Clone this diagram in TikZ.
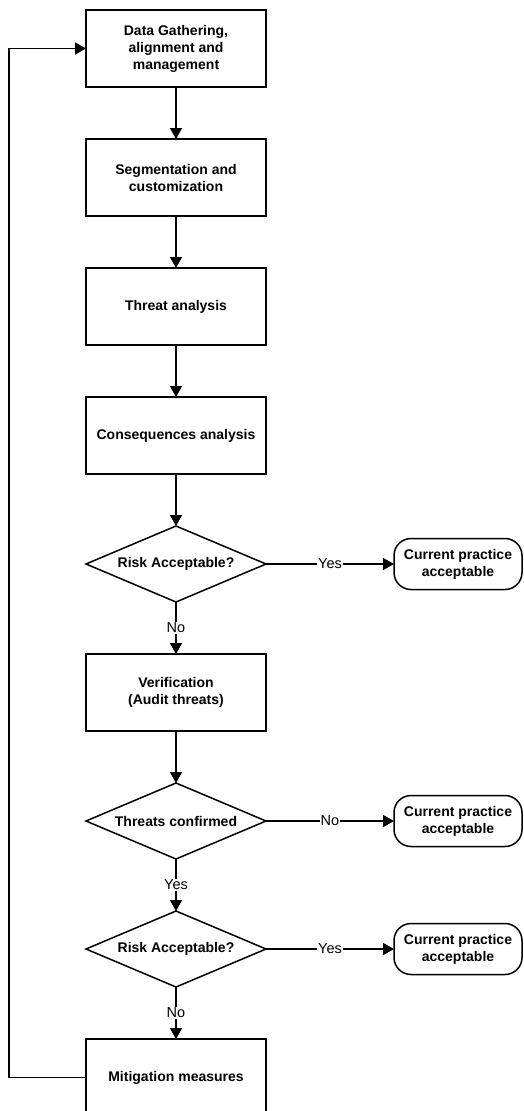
\documentclass[tikz,border=0pt]{standalone}
\usepackage{fontspec}
\setmainfont{Liberation Sans}
\usetikzlibrary{positioning,shapes.geometric,arrows.meta}
\def\stepsep{52pt}

\begin{document}
\begin{tikzpicture}[x=1pt,y=1pt,line width=1.5pt,node distance=\stepsep,
	>={Triangle[length=11pt,width=12pt]}]
	\tikzstyle{every node}=[font=\fontsize{14.5}{17}\selectfont]
	\tikzstyle{process}=[draw,rectangle,minimum width=180pt,minimum height=77pt,
		inner sep=2pt,outer sep=0pt,align=center,font=\fontsize{14}{17}\selectfont\bfseries]
	\tikzstyle{decision}=[draw,diamond,aspect=2.37,minimum width=180pt,
		minimum height=76pt,inner sep=0pt,outer sep=0pt,
		font=\fontsize{14}{17}\selectfont\bfseries]
	\tikzstyle{terminal}=[draw,rectangle,rounded corners=17pt,minimum width=128pt,
		minimum height=51pt,inner sep=2pt,outer sep=0pt,align=center,
		font=\fontsize{14}{17}\selectfont\bfseries]
	\tikzstyle{answer}=[fill=white,inner sep=1pt]

	\useasboundingbox (0,0) rectangle (523,-1111);

	% Draw the main column
	\node[process] (data) at (176,-48.5) {Data Gathering,\\alignment and\\management};
	\node[process, below=of data] (segm) {Segmentation and\\customization};
	\node[process, below=of segm] (threat) {Threat analysis};
	\node[process, below=of threat] (conseq) {Consequences analysis};
	\node[decision, below=of conseq] (risk1) {Risk Acceptable?};
	\node[process, below=of risk1] (verif) {Verification\\(Audit threats)};
	\node[decision, below=of verif] (confirm) {Threats confirmed};
	\node[decision, below=of confirm] (risk2) {Risk Acceptable?};
	\node[process, below=of risk2] (mitig) {Mitigation measures};

	% Draw the end states
	\node[terminal, right=128pt of risk1] (ok1) {Current practice\\acceptable};
	\node[terminal, right=128pt of confirm] (ok2) {Current practice\\acceptable};
	\node[terminal, right=128pt of risk2] (ok3) {Current practice\\acceptable};

	% Connect the steps
	\foreach \source / \dest in {data/segm,segm/threat,threat/conseq,conseq/risk1,verif/confirm}
	\draw[->] (\source) -- (\dest);

	\draw[->] (risk1) -- node[answer] {No} (verif);
	\draw[->] (confirm) -- node[answer] {Yes} (risk2);
	\draw[->] (risk2) -- node[answer] {No} (mitig);

	\draw[->] (risk1) -- node[answer] {Yes} (ok1);
	\draw[->] (confirm) -- node[answer] {No} (ok2);
	\draw[->] (risk2) -- node[answer] {Yes} (ok3);

	% Loop back to the start
	\draw[->] (mitig.west) -- ++(-77,0) |- (data.west);
\end{tikzpicture}
\end{document}
